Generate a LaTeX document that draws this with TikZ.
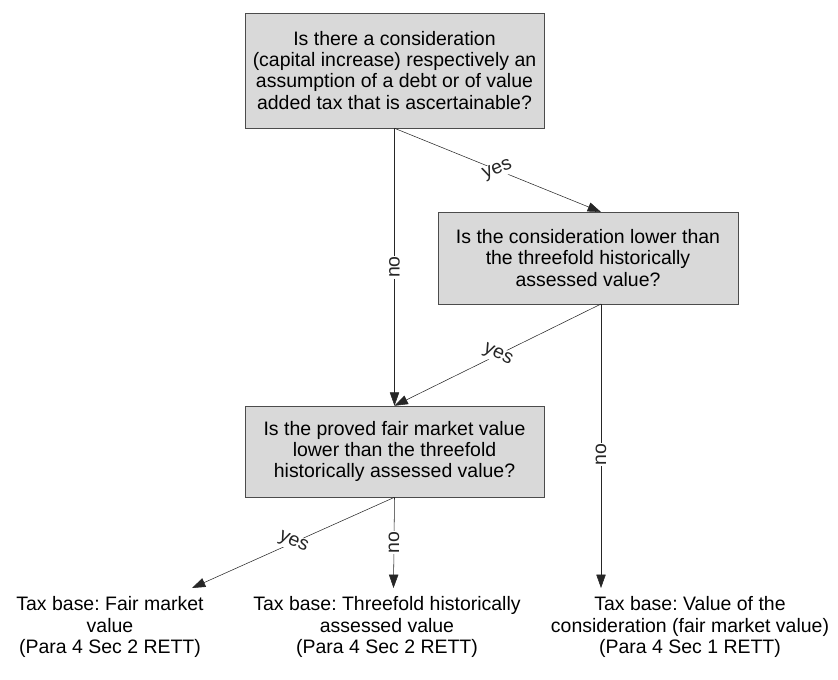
\documentclass[tikz,border=0pt]{standalone}
\usepackage{fontspec}
\setmainfont{Liberation Sans}
\usetikzlibrary{arrows.meta}
\frenchspacing
\begin{document}
\begin{tikzpicture}[x=0.75pt,y=0.75pt,yscale=-1,
  question/.style={draw=black!70,fill=black!15,align=center,inner sep=0pt,
    font=\fontsize{14.6pt}{15.8pt}\selectfont},
  result/.style={align=center,inner sep=0pt,font=\fontsize{14.6pt}{15.8pt}\selectfont},
  flow/.style={-{Triangle[length=10pt,width=7pt]},black!85},
  cond/.style={fill=white,inner sep=0.5pt,font=\fontsize{14.6pt}{15.8pt}\selectfont}]
\useasboundingbox (0,0) rectangle (838,679);
% questions
\node [question, minimum width=299*0.75pt, minimum height=115*0.75pt] (askdebt) at (394.5,70.5)
  {Is there a consideration\\(capital increase) respectively an\\assumption of a debt or of value\\added tax that is ascertainable?};
\node [question, minimum width=300*0.75pt, minimum height=92*0.75pt] (asklower) at (588,258)
  {Is the consideration lower than\\the threefold historically\\assessed value?};
\node [question, minimum width=299*0.75pt, minimum height=91*0.75pt] (askfair) at (394.5,451.5)
  {Is the proved fair market value\\lower than the threefold\\historically assessed value?};
% results
\node [result] (basefair) at (110,627) {Tax base: Fair market\\value\\(Para 4 Sec 2 RETT)};
\node [result] (basethree) at (387,627) {Tax base: Threefold historically\\assessed value\\(Para 4 Sec 2 RETT)};
\node [result] (basevalue) at (690,627) {Tax base: Value of the\\consideration (fair market value)\\(Para 4 Sec 1 RETT)};
% connector ends
\coordinate (lowertop) at (601,212);
\coordinate (lowerbot) at (601,304);
\coordinate (fairend) at (192,588);
\coordinate (threeend) at (393.5,588);
\coordinate (valueend) at (601,588);
% connectors
\draw [flow] (askdebt.south) -- (askfair.north) node [cond, pos=0.5, rotate=90] {no};
\draw [flow] (askdebt.south) -- (lowertop) node [cond, pos=0.5, sloped] {yes};
\draw [flow] (lowerbot) -- (askfair.north) node [cond, pos=0.5, sloped] {yes};
\draw [flow] (lowerbot) -- (valueend) node [cond, pos=0.53, rotate=90] {no};
\draw [flow] (askfair.south) -- (fairend) node [cond, pos=0.5, sloped] {yes};
\draw [flow] (askfair.south) -- (threeend) node [cond, pos=0.5, rotate=90] {no};
\end{tikzpicture}
\end{document}
